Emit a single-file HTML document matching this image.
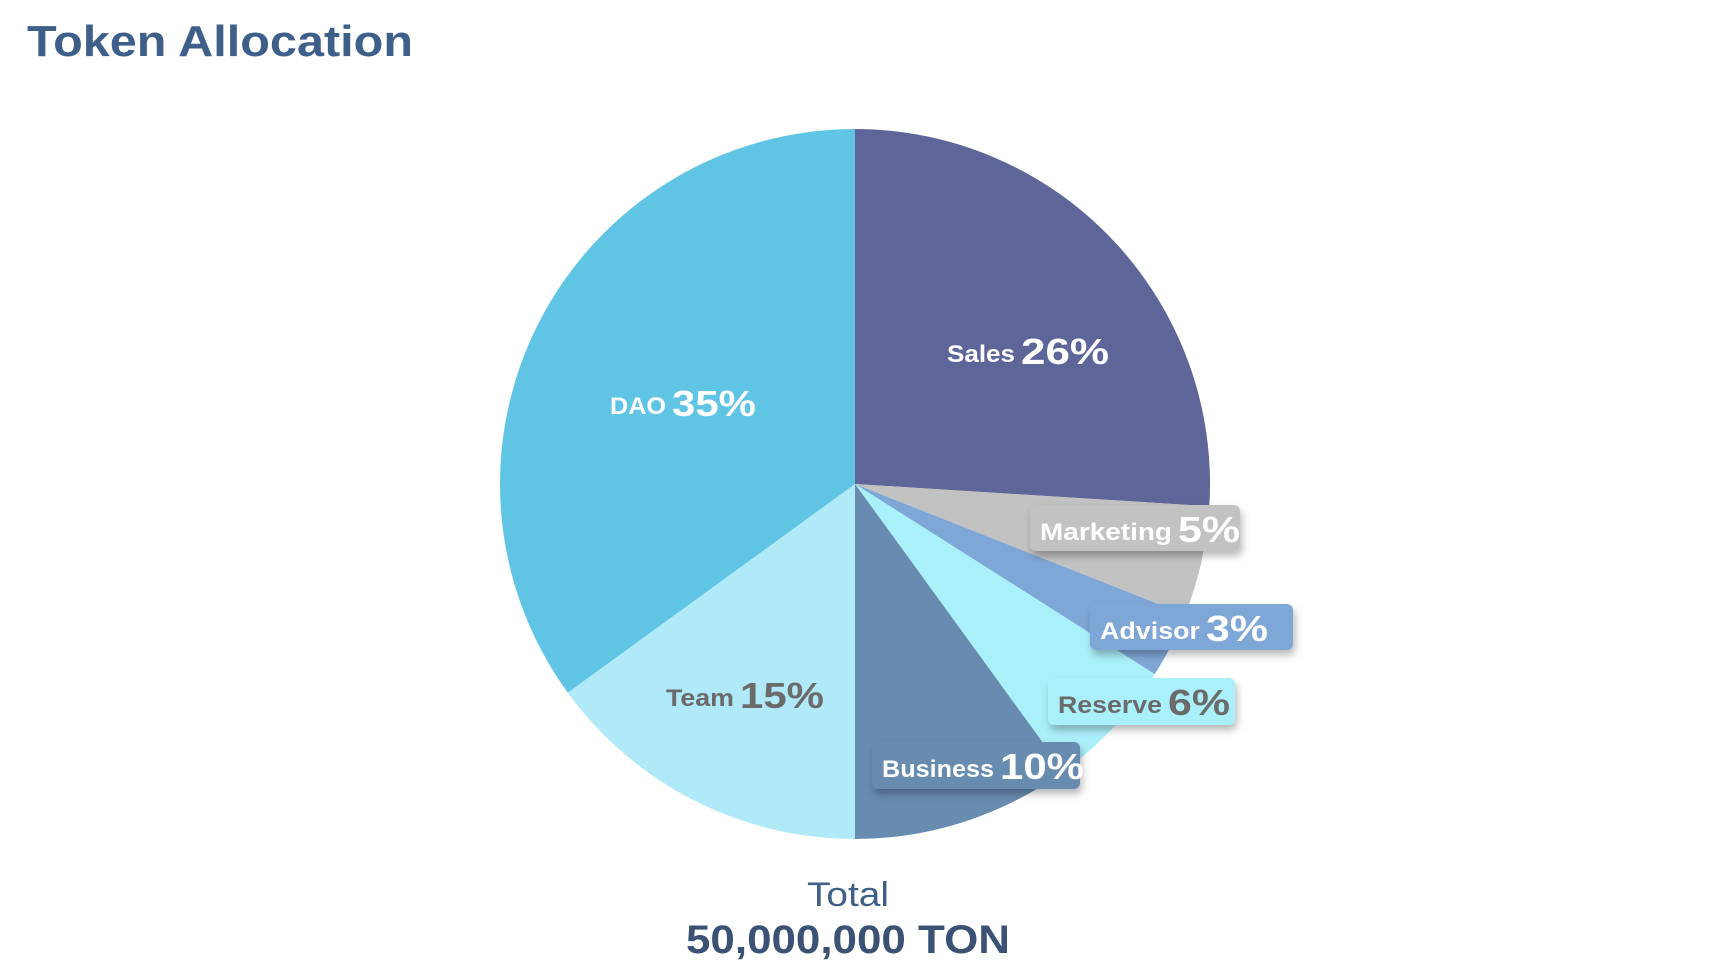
<!DOCTYPE html>
<html><head><meta charset="utf-8"><style>
html,body{margin:0;padding:0;background:#fff;width:1729px;height:968px;overflow:hidden;font-family:"Liberation Sans",sans-serif}
</style></head><body>
<svg id="chart" width="1729" height="968" viewBox="0 0 1729 968" xmlns="http://www.w3.org/2000/svg">
<defs><filter id="sh" x="-20%" y="-30%" width="140%" height="180%"><feDropShadow dx="2" dy="5" stdDeviation="4" flood-color="#000" flood-opacity="0.28"/></filter></defs>
<text x="27" y="56" font-size="44" font-weight="bold" fill="#3d5f8a" textLength="386" lengthAdjust="spacingAndGlyphs">Token Allocation</text>
<g id="slices"></g>
<g id="labels"></g>
<text x="848" y="906" font-size="34" fill="#3f5f86" text-anchor="middle" textLength="82" lengthAdjust="spacingAndGlyphs">Total</text>
<text x="848" y="953" font-size="40" font-weight="bold" fill="#3b5274" text-anchor="middle" textLength="324" lengthAdjust="spacingAndGlyphs">50,000,000 TON</text>
</svg>
<script>
const categories = ["Sales","Marketing","Advisor","Reserve","Business","Team","DAO"];
const values = [26,5,3,6,10,15,35];
const colors = ["#5e6699","#c2c2c2","#7ea6d6","#aaf0fa","#688bb0","#b0e9f7","#60c5e5"];
const cx=855, cy=484, R=355;
const NS="http://www.w3.org/2000/svg";
const total=values.reduce((a,b)=>a+b,0);
function angleOf(v){return v/total*2*Math.PI - Math.PI/2;}
function pt(a,r){return [cx+r*Math.cos(a), cy+r*Math.sin(a)];}
const sg=document.getElementById('slices');
let cum=0;
values.forEach((v,i)=>{
  const a0=angleOf(cum), a1=angleOf(cum+v); cum+=v;
  const p0=pt(a0,R), p1=pt(a1,R);
  const large=(a1-a0)>Math.PI?1:0;
  const p=document.createElementNS(NS,'path');
  p.setAttribute('d',`M${cx},${cy} L${p0[0]},${p0[1]} A${R},${R} 0 ${large} 1 ${p1[0]},${p1[1]} Z`);
  p.setAttribute('fill',colors[i]);
  
  
  sg.appendChild(p);
});
// label layout: [x, y, boxW, boxH, textColor, nameLen, pctLen, hasBox]
const layout={
 Sales:[947,362,0,0,"#fff",68,88,false],
 DAO:[610,414,0,0,"#fff",56,84,false],
 Team:[666,706,0,0,"#6b6b6b",68,84,false],
 Marketing:[1040,540,210,46,"#fff",132,62,true],
 Advisor:[1100,639,203,46,"#fff",100,62,true],
 Reserve:[1058,713,187,47,"#6b6b6b",104,62,true],
 Business:[882,777,208,47,"#fff",112,84,true]
};
const lg=document.getElementById('labels');
categories.forEach((c,i)=>{
  const L=layout[c];
  const g=document.createElementNS(NS,'g');
  
  
  if(L[7]){
    const r=document.createElementNS(NS,'rect');
    r.setAttribute('x',L[0]-10);r.setAttribute('y',L[1]-35);
    r.setAttribute('width',L[2]);r.setAttribute('height',L[3]);
    r.setAttribute('rx',6);r.setAttribute('fill',colors[i]);
    r.setAttribute('filter','url(#sh)');
    
    
    g.appendChild(r);
  }
  const t1=document.createElementNS(NS,'text');
  t1.setAttribute('x',L[0]);t1.setAttribute('y',L[1]);
  t1.setAttribute('font-size',24);t1.setAttribute('font-weight','bold');t1.setAttribute('fill',L[4]);
  t1.setAttribute('textLength',L[5]);t1.setAttribute('lengthAdjust','spacingAndGlyphs');
  t1.textContent=c;
  
  
  g.appendChild(t1);
  const t2=document.createElementNS(NS,'text');
  t2.setAttribute('x',L[0]+L[5]+6);t2.setAttribute('y',L[1]+2);
  t2.setAttribute('font-size',36);t2.setAttribute('font-weight','bold');t2.setAttribute('fill',L[4]);
  t2.setAttribute('textLength',L[6]);t2.setAttribute('lengthAdjust','spacingAndGlyphs');
  t2.textContent=values[i]+'%';
  
  
  g.appendChild(t2);
  lg.appendChild(g);
});
</script>
</body></html>
